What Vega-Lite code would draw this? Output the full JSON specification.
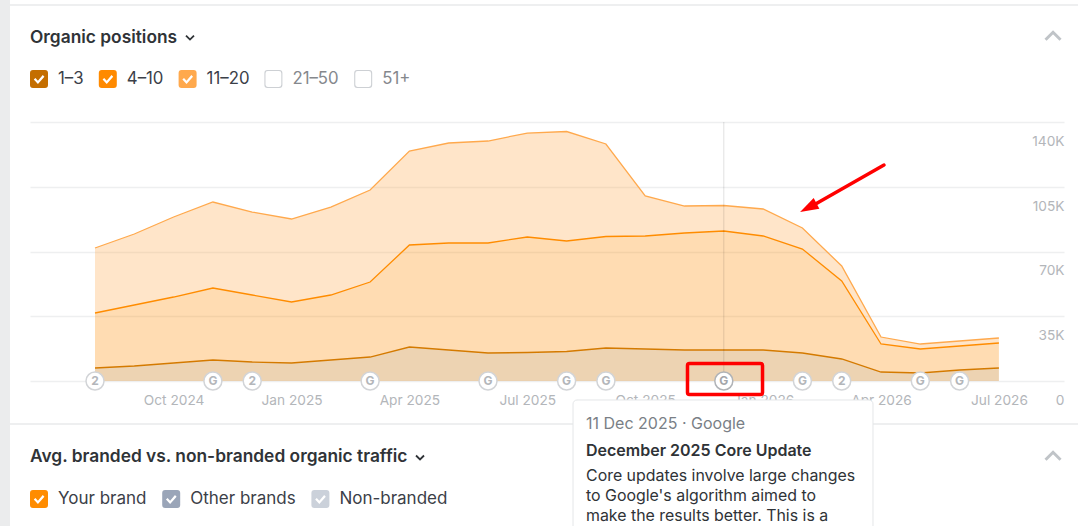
{
  "$schema": "https://vega.github.io/schema/vega-lite/v6.json",
  "width": 1034,
  "height": 259,
  "autosize": {"type": "none"},
  "padding": {"left": 30, "top": 122, "right": 14, "bottom": 145},
  "background": "#ffffff",
  "config": {"view": {"stroke": null}, "font": "Inter"},
  "data": {"values": [{}]},
  "datasets": {
    "positions": [
      {"month": "Aug 2024", "index": 0, "band": "1–3", "rank": 1, "pages": 7030},
      {"month": "Aug 2024", "index": 0, "band": "4–10", "rank": 2, "pages": 29730},
      {"month": "Aug 2024", "index": 0, "band": "11–20", "rank": 3, "pages": 35130},
      {"month": "Sep 2024", "index": 1, "band": "1–3", "rank": 1, "pages": 8110},
      {"month": "Sep 2024", "index": 1, "band": "4–10", "rank": 2, "pages": 32970},
      {"month": "Sep 2024", "index": 1, "band": "11–20", "rank": 3, "pages": 38380},
      {"month": "Oct 2024", "index": 2, "band": "1–3", "rank": 1, "pages": 9730},
      {"month": "Oct 2024", "index": 2, "band": "4–10", "rank": 2, "pages": 35670},
      {"month": "Oct 2024", "index": 2, "band": "11–20", "rank": 3, "pages": 43240},
      {"month": "Nov 2024", "index": 3, "band": "1–3", "rank": 1, "pages": 11350},
      {"month": "Nov 2024", "index": 3, "band": "4–10", "rank": 2, "pages": 38920},
      {"month": "Nov 2024", "index": 3, "band": "11–20", "rank": 3, "pages": 46480},
      {"month": "Dec 2024", "index": 4, "band": "1–3", "rank": 1, "pages": 10270},
      {"month": "Dec 2024", "index": 4, "band": "4–10", "rank": 2, "pages": 36210},
      {"month": "Dec 2024", "index": 4, "band": "11–20", "rank": 3, "pages": 44860},
      {"month": "Jan 2025", "index": 5, "band": "1–3", "rank": 1, "pages": 9730},
      {"month": "Jan 2025", "index": 5, "band": "4–10", "rank": 2, "pages": 32970},
      {"month": "Jan 2025", "index": 5, "band": "11–20", "rank": 3, "pages": 44860},
      {"month": "Feb 2025", "index": 6, "band": "1–3", "rank": 1, "pages": 11350},
      {"month": "Feb 2025", "index": 6, "band": "4–10", "rank": 2, "pages": 35130},
      {"month": "Feb 2025", "index": 6, "band": "11–20", "rank": 3, "pages": 47560},
      {"month": "Mar 2025", "index": 7, "band": "1–3", "rank": 1, "pages": 12970},
      {"month": "Mar 2025", "index": 7, "band": "4–10", "rank": 2, "pages": 40540},
      {"month": "Mar 2025", "index": 7, "band": "11–20", "rank": 3, "pages": 49730},
      {"month": "Apr 2025", "index": 8, "band": "1–3", "rank": 1, "pages": 18380},
      {"month": "Apr 2025", "index": 8, "band": "4–10", "rank": 2, "pages": 55130},
      {"month": "Apr 2025", "index": 8, "band": "11–20", "rank": 3, "pages": 50810},
      {"month": "May 2025", "index": 9, "band": "1–3", "rank": 1, "pages": 16760},
      {"month": "May 2025", "index": 9, "band": "4–10", "rank": 2, "pages": 57830},
      {"month": "May 2025", "index": 9, "band": "11–20", "rank": 3, "pages": 54050},
      {"month": "Jun 2025", "index": 10, "band": "1–3", "rank": 1, "pages": 15130},
      {"month": "Jun 2025", "index": 10, "band": "4–10", "rank": 2, "pages": 59460},
      {"month": "Jun 2025", "index": 10, "band": "11–20", "rank": 3, "pages": 55130},
      {"month": "Jul 2025", "index": 11, "band": "1–3", "rank": 1, "pages": 15400},
      {"month": "Jul 2025", "index": 11, "band": "4–10", "rank": 2, "pages": 62430},
      {"month": "Jul 2025", "index": 11, "band": "11–20", "rank": 3, "pages": 56210},
      {"month": "Aug 2025", "index": 12, "band": "1–3", "rank": 1, "pages": 15940},
      {"month": "Aug 2025", "index": 12, "band": "4–10", "rank": 2, "pages": 59730},
      {"month": "Aug 2025", "index": 12, "band": "11–20", "rank": 3, "pages": 59180},
      {"month": "Sep 2025", "index": 13, "band": "1–3", "rank": 1, "pages": 17840},
      {"month": "Sep 2025", "index": 13, "band": "4–10", "rank": 2, "pages": 60270},
      {"month": "Sep 2025", "index": 13, "band": "11–20", "rank": 3, "pages": 50000},
      {"month": "Oct 2025", "index": 14, "band": "1–3", "rank": 1, "pages": 17300},
      {"month": "Oct 2025", "index": 14, "band": "4–10", "rank": 2, "pages": 61080},
      {"month": "Oct 2025", "index": 14, "band": "11–20", "rank": 3, "pages": 21620},
      {"month": "Nov 2025", "index": 15, "band": "1–3", "rank": 1, "pages": 16760},
      {"month": "Nov 2025", "index": 15, "band": "4–10", "rank": 2, "pages": 63240},
      {"month": "Nov 2025", "index": 15, "band": "11–20", "rank": 3, "pages": 14590},
      {"month": "Dec 2025", "index": 16, "band": "1–3", "rank": 1, "pages": 16760},
      {"month": "Dec 2025", "index": 16, "band": "4–10", "rank": 2, "pages": 64320},
      {"month": "Dec 2025", "index": 16, "band": "11–20", "rank": 3, "pages": 13780},
      {"month": "Jan 2026", "index": 17, "band": "1–3", "rank": 1, "pages": 16760},
      {"month": "Jan 2026", "index": 17, "band": "4–10", "rank": 2, "pages": 61620},
      {"month": "Jan 2026", "index": 17, "band": "11–20", "rank": 3, "pages": 14590},
      {"month": "Feb 2026", "index": 18, "band": "1–3", "rank": 1, "pages": 15130},
      {"month": "Feb 2026", "index": 18, "band": "4–10", "rank": 2, "pages": 56210},
      {"month": "Feb 2026", "index": 18, "band": "11–20", "rank": 3, "pages": 11350},
      {"month": "Mar 2026", "index": 19, "band": "1–3", "rank": 1, "pages": 11890},
      {"month": "Mar 2026", "index": 19, "band": "4–10", "rank": 2, "pages": 42160},
      {"month": "Mar 2026", "index": 19, "band": "11–20", "rank": 3, "pages": 8110},
      {"month": "Apr 2026", "index": 20, "band": "1–3", "rank": 1, "pages": 4860},
      {"month": "Apr 2026", "index": 20, "band": "4–10", "rank": 2, "pages": 15130},
      {"month": "Apr 2026", "index": 20, "band": "11–20", "rank": 3, "pages": 3780},
      {"month": "May 2026", "index": 21, "band": "1–3", "rank": 1, "pages": 4320},
      {"month": "May 2026", "index": 21, "band": "4–10", "rank": 2, "pages": 12970},
      {"month": "May 2026", "index": 21, "band": "11–20", "rank": 3, "pages": 2700},
      {"month": "Jun 2026", "index": 22, "band": "1–3", "rank": 1, "pages": 5950},
      {"month": "Jun 2026", "index": 22, "band": "4–10", "rank": 2, "pages": 12970},
      {"month": "Jun 2026", "index": 22, "band": "11–20", "rank": 3, "pages": 2700},
      {"month": "Jul 2026", "index": 23, "band": "1–3", "rank": 1, "pages": 7030},
      {"month": "Jul 2026", "index": 23, "band": "4–10", "rank": 2, "pages": 13510},
      {"month": "Jul 2026", "index": 23, "band": "11–20", "rank": 3, "pages": 2700}
    ],
    "updates": [
      {"index": 0, "source": "2", "open": false},
      {"index": 3, "source": "G", "open": false},
      {"index": 4, "source": "2", "open": false},
      {"index": 7, "source": "G", "open": false},
      {"index": 10, "source": "G", "open": false},
      {"index": 12, "source": "G", "open": false},
      {"index": 13, "source": "G", "open": false},
      {"index": 16, "source": "G", "open": true},
      {"index": 18, "source": "G", "open": false},
      {"index": 19, "source": "2", "open": false},
      {"index": 21, "source": "G", "open": false},
      {"index": 22, "source": "G", "open": false}
    ],
    "traffic": [
      {"series": "Your brand"},
      {"series": "Other brands"},
      {"series": "Non-branded"}
    ]
  },
  "resolve": {
    "scale": {"color": "independent", "shape": "independent"},
    "legend": {"color": "independent", "shape": "independent"}
  },
  "layer": [
    {
      "data": {"name": "positions"},
      "transform": [{"stack": "pages", "groupby": ["index"], "sort": [{"field": "rank"}], "as": ["low", "high"]}],
      "mark": {"type": "area", "fillOpacity": 0.3},
      "encoding": {
        "x": {
          "field": "index",
          "type": "quantitative",
          "scale": {"domain": [-1.654, 24.656], "nice": false, "zero": false},
          "axis": {"values": [2, 5, 8, 11, 14, 17, 20, 23], "labelExpr": "timeFormat(datetime(2024, 7 + datum.value, 1), '%b %Y')", "title": null, "grid": false, "domain": false, "ticks": false, "labelPadding": 19.4, "labelBaseline": "middle", "labelFont": "Inter", "labelFontSize": 13.7, "labelColor": "#b3b6ba", "labelFlush": false, "labelOverlap": false, "labelAngle": 0}
        },
        "y": {
          "field": "high",
          "type": "quantitative",
          "scale": {"domain": [0, 140000], "nice": false},
          "axis": {"orient": "right", "values": [0, 35000, 70000, 105000, 140000], "labelExpr": "datum.value === 0 ? '0' : (datum.value / 1000) + 'K'", "title": null, "domain": false, "ticks": false, "grid": true, "gridColor": "#eeeff0", "gridWidth": 1.5, "labelPadding": 0, "labelAlign": "right", "labelBaseline": "middle", "labelOffset": 19.4, "labelFont": "Inter", "labelFontSize": 13.7, "labelColor": "#b3b6ba", "labelOverlap": false}
        },
        "y2": {"field": "low"},
        "color": {"field": "band", "type": "nominal", "scale": {"domain": ["1–3", "4–10", "11–20"], "range": ["#c46e00", "#ff8c00", "#ffa94d"]}, "legend": null}
      }
    },
    {
      "data": {"name": "positions"},
      "transform": [{"stack": "pages", "groupby": ["index"], "sort": [{"field": "rank"}], "as": ["low", "high"]}],
      "mark": {"type": "line", "strokeWidth": 1.3},
      "encoding": {
        "x": {"field": "index", "type": "quantitative"},
        "y": {"field": "high", "type": "quantitative"},
        "color": {"field": "band", "type": "nominal", "scale": {"domain": ["1–3", "4–10", "11–20"], "range": ["#d47a00", "#ff8c00", "#ffa94d"]}, "legend": null}
      }
    },
    {
      "mark": {"type": "rule", "color": "#000000", "opacity": 0.12, "strokeWidth": 1},
      "encoding": {
        "x": {"datum": 16},
        "y": {"datum": 140000},
        "y2": {"datum": 0}
      }
    },
    {
      "data": {"name": "updates"},
      "mark": {"type": "point", "shape": "circle", "filled": true, "fill": "#ffffff", "size": 324, "strokeWidth": 1.5, "opacity": 1},
      "encoding": {
        "x": {"field": "index", "type": "quantitative"},
        "y": {"datum": 0},
        "stroke": {"condition": {"test": "datum.open", "value": "#b0b3b7"}, "value": "#d2d4d7"}
      }
    },
    {
      "data": {"name": "updates"},
      "mark": {"type": "text", "font": "Inter", "fontSize": 12, "fontWeight": 700, "baseline": "middle", "align": "center"},
      "encoding": {
        "x": {"field": "index", "type": "quantitative"},
        "y": {"datum": 0},
        "text": {"field": "source"},
        "color": {"condition": {"test": "datum.open", "value": "#a3a6aa"}, "value": "#b3b6ba"}
      }
    },
    {
      "data": {"name": "positions"},
      "mark": {"type": "point", "filled": true, "opacity": 0},
      "encoding": {
        "color": {
          "field": "band",
          "type": "nominal",
          "scale": {"domain": ["1–3", "4–10", "11–20", "21–50", "51+"], "range": ["#c46e00", "#ff8a00", "#ffa94d", "#cdd0d4", "#cdd0d4"]},
          "legend": {"orient": "none", "legendX": 0, "legendY": -52, "direction": "horizontal", "columns": 5, "title": null, "symbolSize": 324, "symbolOpacity": 1, "symbolStrokeWidth": 0, "columnPadding": 14.8, "labelOffset": 10, "labelFont": "Inter", "labelFontSize": 16.8, "labelColor": "#3b4048", "encode": {"labels": {"update": {"fill": {"signal": "datum.label === '21–50' || datum.label === '51+' ? '#85888d' : '#3b4048'"}}}}}
        },
        "shape": {
          "field": "band",
          "type": "nominal",
          "scale": {"domain": ["1–3", "4–10", "11–20", "21–50", "51+"], "range": [
            "M-0.67,-1L0.67,-1Q1,-1 1,-0.67L1,0.67Q1,1 0.67,1L-0.67,1Q-1,1 -1,0.67L-1,-0.67Q-1,-1 -0.67,-1ZM-0.58,0.06L-0.12,0.55L0.6,-0.26L0.42,-0.44L-0.12,0.2L-0.4,-0.12Z",
            "M-0.67,-1L0.67,-1Q1,-1 1,-0.67L1,0.67Q1,1 0.67,1L-0.67,1Q-1,1 -1,0.67L-1,-0.67Q-1,-1 -0.67,-1ZM-0.58,0.06L-0.12,0.55L0.6,-0.26L0.42,-0.44L-0.12,0.2L-0.4,-0.12Z",
            "M-0.67,-1L0.67,-1Q1,-1 1,-0.67L1,0.67Q1,1 0.67,1L-0.67,1Q-1,1 -1,0.67L-1,-0.67Q-1,-1 -0.67,-1ZM-0.58,0.06L-0.12,0.55L0.6,-0.26L0.42,-0.44L-0.12,0.2L-0.4,-0.12Z",
            "M-0.67,-1L0.67,-1Q1,-1 1,-0.67L1,0.67Q1,1 0.67,1L-0.67,1Q-1,1 -1,0.67L-1,-0.67Q-1,-1 -0.67,-1ZM-0.62,-0.88Q-0.88,-0.88 -0.88,-0.62L-0.88,0.62Q-0.88,0.88 -0.62,0.88L0.62,0.88Q0.88,0.88 0.88,0.62L0.88,-0.62Q0.88,-0.88 0.62,-0.88Z",
            "M-0.67,-1L0.67,-1Q1,-1 1,-0.67L1,0.67Q1,1 0.67,1L-0.67,1Q-1,1 -1,0.67L-1,-0.67Q-1,-1 -0.67,-1ZM-0.62,-0.88Q-0.88,-0.88 -0.88,-0.62L-0.88,0.62Q-0.88,0.88 -0.62,0.88L0.62,0.88Q0.88,0.88 0.88,0.62L0.88,-0.62Q0.88,-0.88 0.62,-0.88Z"
          ]},
          "legend": {"title": null}
        }
      }
    },
    {
      "data": {"name": "traffic"},
      "mark": {"type": "point", "filled": true, "opacity": 0},
      "encoding": {
        "color": {
          "field": "series",
          "type": "nominal",
          "scale": {"domain": ["Your brand", "Other brands", "Non-branded"], "range": ["#ff8c00", "#9aa5b8", "#cbd1da"]},
          "legend": {"orient": "none", "legendX": 0, "legendY": 368, "direction": "horizontal", "columns": 3, "title": null, "symbolSize": 324, "symbolOpacity": 1, "symbolStrokeWidth": 0, "columnPadding": 15.2, "labelOffset": 10, "labelFont": "Inter", "labelFontSize": 17, "labelColor": "#3b4048", "encode": {"labels": {"update": {"fill": {"signal": "'#3b4048'"}}}}}
        },
        "shape": {
          "field": "series",
          "type": "nominal",
          "scale": {"domain": ["Your brand", "Other brands", "Non-branded"], "range": [
            "M-0.67,-1L0.67,-1Q1,-1 1,-0.67L1,0.67Q1,1 0.67,1L-0.67,1Q-1,1 -1,0.67L-1,-0.67Q-1,-1 -0.67,-1ZM-0.58,0.06L-0.12,0.55L0.6,-0.26L0.42,-0.44L-0.12,0.2L-0.4,-0.12Z",
            "M-0.67,-1L0.67,-1Q1,-1 1,-0.67L1,0.67Q1,1 0.67,1L-0.67,1Q-1,1 -1,0.67L-1,-0.67Q-1,-1 -0.67,-1ZM-0.58,0.06L-0.12,0.55L0.6,-0.26L0.42,-0.44L-0.12,0.2L-0.4,-0.12Z",
            "M-0.67,-1L0.67,-1Q1,-1 1,-0.67L1,0.67Q1,1 0.67,1L-0.67,1Q-1,1 -1,0.67L-1,-0.67Q-1,-1 -0.67,-1ZM-0.58,0.06L-0.12,0.55L0.6,-0.26L0.42,-0.44L-0.12,0.2L-0.4,-0.12Z"
          ]},
          "legend": {"title": null}
        }
      }
    },
    {
      "mark": {"type": "rect", "color": "#ebeced"},
      "encoding": {
        "x": {"datum": -2.6},
        "x2": {"datum": -2.163},
        "y": {"datum": 230000},
        "y2": {"datum": -90000}
      }
    },
    {
      "mark": {"type": "rule", "color": "#eeeff0", "strokeWidth": 2},
      "encoding": {
        "x": {"datum": -2.163},
        "x2": {"datum": 25.1},
        "y": {"datum": 203228}
      }
    },
    {
      "mark": {"type": "rule", "color": "#eeeff0", "strokeWidth": 2},
      "encoding": {
        "x": {"datum": -2.163},
        "x2": {"datum": 25.1},
        "y": {"datum": -23240}
      }
    },
    {
      "mark": {"type": "rect", "fill": "#ffffff", "stroke": "#e4e6e8", "strokeWidth": 1, "cornerRadius": 4},
      "encoding": {
        "x": {"datum": 12.163},
        "x2": {"datum": 19.796},
        "y": {"datum": -10270},
        "y2": {"datum": -85940}
      }
    },
    {
      "mark": {"type": "text", "text": "11 Dec 2025 · Google", "font": "Inter", "fontSize": 16, "color": "#7a7f86", "align": "left", "baseline": "middle"},
      "encoding": {"x": {"datum": 12.494}, "y": {"datum": -23240}}
    },
    {
      "mark": {"type": "text", "text": "December 2025 Core Update", "font": "Inter", "fontSize": 16, "fontWeight": 600, "color": "#2f3337", "align": "left", "baseline": "middle"},
      "encoding": {"x": {"datum": 12.494}, "y": {"datum": -37840}}
    },
    {
      "mark": {"type": "text", "text": "Core updates involve large changes", "font": "Inter", "fontSize": 15.9, "color": "#2f3337", "align": "left", "baseline": "middle"},
      "encoding": {"x": {"datum": 12.494}, "y": {"datum": -51350}}
    },
    {
      "mark": {"type": "text", "text": "to Google's algorithm aimed to", "font": "Inter", "fontSize": 15.9, "color": "#2f3337", "align": "left", "baseline": "middle"},
      "encoding": {"x": {"datum": 12.494}, "y": {"datum": -62430}}
    },
    {
      "mark": {"type": "text", "text": "make the results better. This is a", "font": "Inter", "fontSize": 15.9, "color": "#2f3337", "align": "left", "baseline": "middle"},
      "encoding": {"x": {"datum": 12.494}, "y": {"datum": -72970}}
    },
    {
      "mark": {"type": "rect", "filled": false, "stroke": "#ff0000", "strokeWidth": 3.5, "cornerRadius": 2},
      "encoding": {
        "x": {"datum": 15.076},
        "x2": {"datum": 16.985},
        "y": {"datum": 9459},
        "y2": {"datum": -7297}
      }
    },
    {
      "mark": {"type": "rule", "color": "#ff0000", "strokeWidth": 3.5, "strokeCap": "round"},
      "encoding": {
        "x": {"datum": 20.076},
        "x2": {"datum": 18.244},
        "y": {"datum": 116750},
        "y2": {"datum": 94590}
      }
    },
    {
      "mark": {"type": "point", "shape": "M0,-1L-0.65,1L0.65,1Z", "filled": true, "color": "#ff0000", "size": 346, "angle": 242, "opacity": 1},
      "encoding": {
        "x": {"datum": 18.15},
        "y": {"datum": 93670}
      }
    },
    {
      "mark": {"type": "text", "text": "Organic positions", "font": "Inter", "fontSize": 17.35, "fontWeight": 600, "color": "#2f3337", "align": "left", "baseline": "middle"},
      "encoding": {"x": {"datum": -1.654}, "y": {"datum": 185400}}
    },
    {
      "mark": {"type": "text", "text": "Avg. branded vs. non-branded organic traffic", "font": "Inter", "fontSize": 17.35, "fontWeight": 600, "color": "#2f3337", "align": "left", "baseline": "middle"},
      "encoding": {"x": {"datum": -1.654}, "y": {"datum": -41000}}
    },
    {
      "mark": {"type": "point", "shape": "M-1,-0.5L0,0.5L1,-0.5", "filled": false, "color": "#2f3337", "size": 64, "strokeWidth": 1.8, "opacity": 1},
      "encoding": {"x": {"datum": 2.417}, "y": {"datum": 185660}}
    },
    {
      "mark": {"type": "point", "shape": "M-1,-0.5L0,0.5L1,-0.5", "filled": false, "color": "#2f3337", "size": 64, "strokeWidth": 1.8, "opacity": 1},
      "encoding": {"x": {"datum": 8.27}, "y": {"datum": -41350}}
    },
    {
      "mark": {"type": "point", "shape": "M-1,0.5L0,-0.5L1,0.5", "filled": false, "color": "#c0c4c8", "size": 225, "strokeWidth": 3, "opacity": 1},
      "encoding": {"x": {"datum": 24.377}, "y": {"datum": 186470}}
    },
    {
      "mark": {"type": "point", "shape": "M-1,0.5L0,-0.5L1,0.5", "filled": false, "color": "#c0c4c8", "size": 225, "strokeWidth": 3, "opacity": 1},
      "encoding": {"x": {"datum": 24.377}, "y": {"datum": -40540}}
    }
  ]
}
